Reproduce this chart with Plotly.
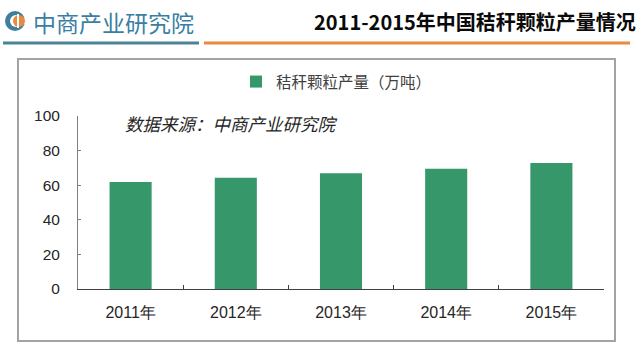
import plotly.graph_objects as go

# ---- data ----
years = ["2011年", "2012年", "2013年", "2014年", "2015年"]
output = [61.8, 64.3, 66.9, 69.5, 72.8]
series_name = "秸秆颗粒产量（万吨）"
title_text = "2011-2015年中国秸秆颗粒产量情况"
brand_text = "中商产业研究院"
source_text = "数据来源：中商产业研究院"
y_ticks = [0, 20, 40, 60, 80, 100]

# ---- layout geometry (pixels) ----
WIDTH, HEIGHT = 640, 354
L, R, T, B = 78, 604, 116, 289
PW, PH = R - L, B - T

def px(x):
    return (x - L) / PW

def py(y):
    return (B - y) / PH

GREEN = "#36976A"
CJK = "Noto Sans CJK SC"
ARIAL = "Liberation Sans, Arial"

fig = go.Figure()
fig.add_trace(go.Bar(
    x=years, y=output, name=series_name,
    marker=dict(color=GREEN, line=dict(width=0)),
    showlegend=True,
))

shapes = []
# outer chart frame
shapes.append(dict(type="rect", xref="paper", yref="paper",
                   x0=px(18), x1=px(615), y0=py(341), y1=py(59),
                   line=dict(color="#A3A3A3", width=2), fillcolor="rgba(0,0,0,0)", layer="below"))
# header underline
shapes.append(dict(type="line", xref="paper", yref="paper",
                   x0=px(3), x1=px(199), y0=py(43), y1=py(43),
                   line=dict(color="#4B8397", width=3)))
shapes.append(dict(type="line", xref="paper", yref="paper",
                   x0=px(204), x1=px(630), y0=py(43), y1=py(43),
                   line=dict(color="#E98A3E", width=3)))
# logo
shapes.append(dict(type="circle", xref="paper", yref="paper",
                   x0=px(5), x1=px(25), y0=py(31), y1=py(11),
                   fillcolor="#3E7F9C", line=dict(width=0)))
shapes.append(dict(type="circle", xref="paper", yref="paper",
                   x0=px(10), x1=px(22), y0=py(27), y1=py(15),
                   fillcolor="white", line=dict(width=0)))
shapes.append(dict(type="rect", xref="paper", yref="paper",
                   x0=px(18), x1=px(26), y0=py(24), y1=py(18),
                   fillcolor="white", line=dict(width=0)))
shapes.append(dict(type="circle", xref="paper", yref="paper",
                   x0=px(13), x1=px(25), y0=py(27), y1=py(15),
                   fillcolor="#E98A3E", line=dict(width=0)))
shapes.append(dict(type="rect", xref="paper", yref="paper",
                   x0=px(17), x1=px(19), y0=py(28), y1=py(14),
                   fillcolor="white", line=dict(width=0)))

annotations = [
    dict(text=brand_text, xref="paper", yref="paper", x=px(31), y=py(22),
         xanchor="left", yanchor="middle", showarrow=False,
         font=dict(family=CJK, size=23, color="#3A7FA3")),
    dict(text="<b>" + title_text + "</b>", xref="paper", yref="paper", x=px(638), y=py(21),
         xanchor="right", yanchor="middle", showarrow=False,
         font=dict(family=CJK, size=20, color="#0A0A0A")),
    dict(text=source_text, xref="paper", yref="paper", x=px(123), y=py(123),
         xanchor="left", yanchor="middle", showarrow=False,
         font=dict(family=CJK, size=17.5, color="#262626", style="italic")),
]

fig.update_layout(
    width=WIDTH, height=HEIGHT,
    margin=dict(l=L, r=WIDTH - R, t=T, b=HEIGHT - B, pad=0),
    paper_bgcolor="white", plot_bgcolor="white",
    bargap=0.6,
    shapes=shapes,
    annotations=annotations,
    legend=dict(orientation="h", x=px(236), y=py(82), xanchor="left", yanchor="middle",
                font=dict(family=CJK, size=15.5, color="#404040"),
                bgcolor="rgba(0,0,0,0)", itemwidth=30),
    xaxis=dict(
        type="category", showgrid=False, zeroline=False,
        showline=True, linecolor="#404040", linewidth=1,
        ticks="inside", ticklen=4, tickcolor="#404040", tickson="boundaries",
        tickfont=dict(family=ARIAL, size=16, color="#262626"),
        ticklabelstandoff=9,
    ),
    yaxis=dict(
        range=[0, 100], tickvals=y_ticks, showgrid=False, zeroline=False,
        showline=True, linecolor="#7F7F7F", linewidth=1,
        ticks="inside", ticklen=3, tickcolor="#7F7F7F",
        tickfont=dict(family=ARIAL, size=15.5, color="#262626"),
        ticklabelstandoff=14,
    ),
)

fig.write_html("out.html")
